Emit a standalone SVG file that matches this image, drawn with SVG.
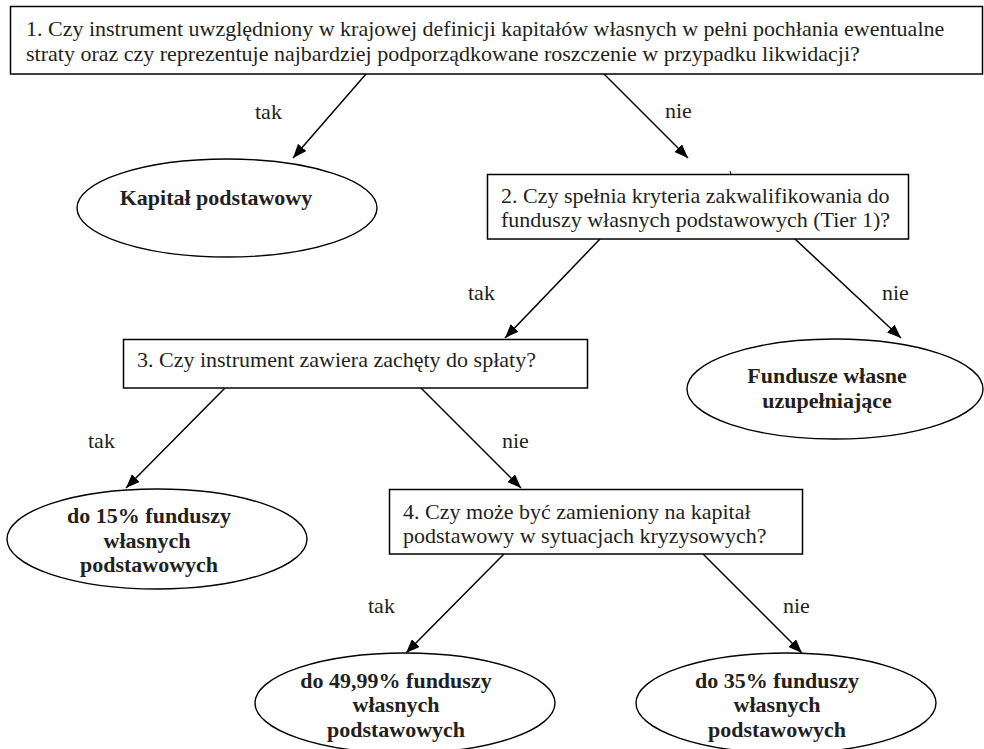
<svg xmlns="http://www.w3.org/2000/svg" width="984" height="749" viewBox="0 0 984 749">
  <defs>
    <marker id="arrow" markerUnits="userSpaceOnUse" markerWidth="14" markerHeight="11" refX="14" refY="5.5" orient="auto">
      <path d="M0,0 L14,5.5 L0,11 z" fill="#000"/>
    </marker>
  </defs>
  <style>
    .box { fill: #fff; stroke: #000; stroke-width: 1.5; }
    .ell { fill: #fff; stroke: #000; stroke-width: 1.4; }
    .q { font-family: "Liberation Serif", "Times New Roman", serif; font-size: 22px; fill: #231f20; }
    .r { font-family: "Liberation Serif", "Times New Roman", serif; font-size: 22px; font-weight: bold; fill: #231f20; text-anchor: middle; }
    .lbl { font-family: "Liberation Serif", "Times New Roman", serif; font-size: 22px; fill: #231f20; }
    .conn { stroke: #000; stroke-width: 1.5; fill: none; marker-end: url(#arrow); }
  </style>
  <rect width="984" height="749" fill="#fff"/>

  <g id="connectors">
    <line class="conn" x1="366" y1="74" x2="293" y2="158"/>
    <line class="conn" x1="604" y1="74" x2="688" y2="158"/>
    <line class="conn" x1="600" y1="239" x2="505" y2="338"/>
    <line class="conn" x1="795" y1="239" x2="901" y2="338"/>
    <line class="conn" x1="225" y1="388" x2="126" y2="488"/>
    <line class="conn" x1="421" y1="388" x2="521" y2="488"/>
    <line class="conn" x1="504" y1="554" x2="406" y2="653"/>
    <line class="conn" x1="703" y1="554" x2="802" y2="653"/>
    <line x1="730" y1="171" x2="731" y2="174" stroke="#000" stroke-width="1"/>
    <text class="lbl" x="255" y="119">tak</text>
    <text class="lbl" x="665" y="118">nie</text>
    <text class="lbl" x="468" y="300">tak</text>
    <text class="lbl" x="882" y="300">nie</text>
    <text class="lbl" x="88" y="448">tak</text>
    <text class="lbl" x="502" y="448">nie</text>
    <text class="lbl" x="368" y="613">tak</text>
    <text class="lbl" x="783" y="613">nie</text>
  </g>

  <g id="q1">
    <rect class="box" x="10.5" y="6.5" width="972" height="67.5"/>
    <text class="q" x="26" y="36">1. Czy instrument uwzględniony w krajowej definicji kapitałów własnych w pełni pochłania ewentualne</text>
    <text class="q" x="26" y="61">straty oraz czy reprezentuje najbardziej podporządkowane roszczenie w przypadku likwidacji?</text>
  </g>

  <g id="r-kapital">
    <ellipse class="ell" cx="227" cy="208" rx="150" ry="49"/>
    <text class="r" x="216" y="205">Kapitał podstawowy</text>
  </g>

  <g id="q2">
    <rect class="box" x="487.5" y="174.5" width="421" height="64.5"/>
    <text class="q" x="501" y="203">2. Czy spełnia kryteria zakwalifikowania do</text>
    <text class="q" x="501" y="227">funduszy własnych podstawowych (Tier 1)?</text>
  </g>

  <g id="q3">
    <rect class="box" x="123.5" y="339.5" width="464" height="48.5"/>
    <text class="q" x="137" y="367">3. Czy instrument zawiera zachęty do spłaty?</text>
  </g>

  <g id="r-uzupelniajace">
    <ellipse class="ell" cx="835" cy="389" rx="148" ry="50"/>
    <text class="r" x="827" y="383">Fundusze własne</text>
    <text class="r" x="827" y="408">uzupełniające</text>
  </g>

  <g id="r-15">
    <ellipse class="ell" cx="157" cy="539" rx="150" ry="50"/>
    <text class="r" x="149" y="523">do 15% funduszy</text>
    <text class="r" x="147" y="548">własnych</text>
    <text class="r" x="149" y="572">podstawowych</text>
  </g>

  <g id="q4">
    <rect class="box" x="389.5" y="489.5" width="413" height="64.5"/>
    <text class="q" x="403" y="519">4. Czy może być zamieniony na kapitał</text>
    <text class="q" x="403" y="543">podstawowy w sytuacjach kryzysowych?</text>
  </g>

  <g id="r-4999">
    <ellipse class="ell" cx="405" cy="703" rx="150" ry="50"/>
    <text class="r" x="396" y="688">do 49,99% funduszy</text>
    <text class="r" x="396" y="712">własnych</text>
    <text class="r" x="396" y="737">podstawowych</text>
  </g>

  <g id="r-35">
    <ellipse class="ell" cx="786" cy="703" rx="150" ry="50"/>
    <text class="r" x="777" y="688">do 35% funduszy</text>
    <text class="r" x="777" y="712">własnych</text>
    <text class="r" x="777" y="737">podstawowych</text>
  </g>
</svg>
